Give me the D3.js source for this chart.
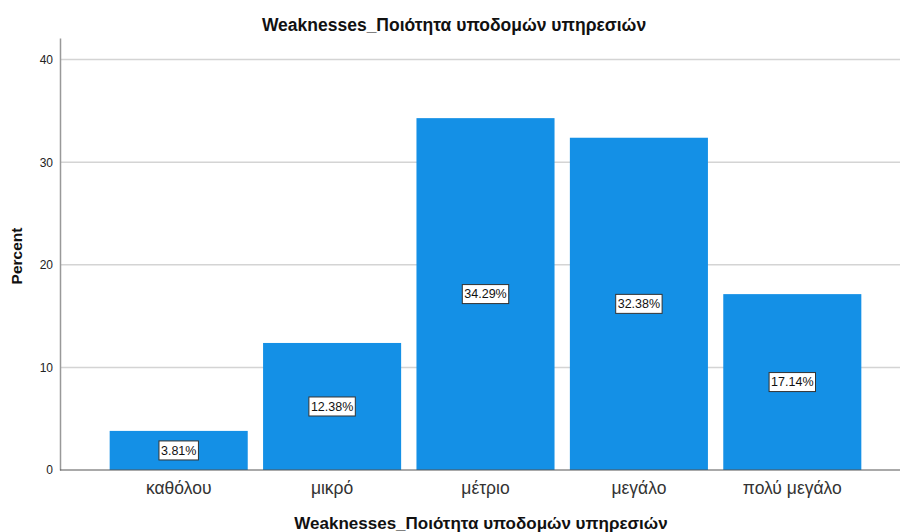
<!DOCTYPE html>
<html>
<head>
<meta charset="utf-8">
<script src="https://cdn.jsdelivr.net/npm/d3@7"></script>
<style>
  body { margin: 0; background: #fff; }
  text { font-family: Arial, "Liberation Sans", sans-serif; }
</style>
</head>
<body>
<div id="chart"></div>
<script>
// data
let categories = ['καθόλου', 'μικρό', 'μέτριο', 'μεγάλο', 'πολύ μεγάλο'];
let percents = [3.81, 12.38, 34.29, 32.38, 17.14];
let yTicks = [0, 10, 20, 30, 40];

let width = 901,
    height = 532;

let svg = d3.select('#chart').append('svg')
    .attr('width', width)
    .attr('height', height);

let x = d3.scaleBand()
    .domain(categories)
    .range([102, 869])
    .paddingInner(0.1)
    .paddingOuter(0.05);

let y = d3.scaleLinear()
    .domain([0, 42.1])
    .range([470, 38]);

// gridlines
svg.append('g')
    .selectAll('line')
    .data(yTicks.filter(function(d) { return d > 0; }))
    .enter().append('line')
    .attr('x1', 60).attr('x2', 900)
    .attr('y1', function(d) { return y(d); })
    .attr('y2', function(d) { return y(d); })
    .attr('stroke', '#d4d4d4')
    .attr('stroke-width', 1.5);

// y axis
let yAxis = svg.append('g')
    .attr('transform', 'translate(60,0)')
    .call(d3.axisLeft(y).tickValues(yTicks).tickSize(0).tickPadding(7));
yAxis.select('.domain').attr('stroke', '#999').attr('stroke-width', 1.5);
yAxis.selectAll('text').attr('font-size', 12).attr('fill', '#222');

// bars
svg.append('g')
    .selectAll('rect')
    .data(percents)
    .enter().append('rect')
    .attr('x', function(d, i) { return x(categories[i]); })
    .attr('y', function(d) { return y(d); })
    .attr('width', x.bandwidth())
    .attr('height', function(d) { return y(0) - y(d); })
    .attr('fill', '#1490e6');

// baseline
svg.append('line')
    .attr('x1', 60).attr('x2', 900)
    .attr('y1', y(0)).attr('y2', y(0))
    .attr('stroke', '#555')
    .attr('stroke-width', 1);

// x axis labels
let xAxis = svg.append('g')
    .attr('transform', 'translate(0,' + y(0) + ')')
    .call(d3.axisBottom(x).tickSize(0).tickPadding(12));
xAxis.select('.domain').remove();
xAxis.selectAll('text').attr('font-size', 17.5).attr('fill', '#333');

// value labels
let labels = svg.append('g')
    .selectAll('g')
    .data(percents)
    .enter().append('g')
    .attr('transform', function(d, i) {
        return 'translate(' + (x(categories[i]) + x.bandwidth() / 2) + ',' + y(d / 2) + ')';
    });

labels.append('text')
    .attr('text-anchor', 'middle')
    .attr('dy', '0.35em')
    .attr('font-size', 12.5)
    .attr('fill', '#111')
    .text(function(d) { return d.toFixed(2) + '%'; });

labels.insert('rect', 'text')
    .each(function() {
        let bb = this.parentNode.querySelector('text').getBBox();
        d3.select(this)
            .attr('x', bb.x - 2)
            .attr('y', -9.5)
            .attr('width', bb.width + 4)
            .attr('height', 19)
            .attr('fill', '#fff')
            .attr('stroke', '#333')
            .attr('stroke-width', 1);
    });

// titles
svg.append('text')
    .attr('x', 454).attr('y', 31)
    .attr('text-anchor', 'middle')
    .attr('font-size', 17.5)
    .attr('font-weight', 'bold')
    .attr('fill', '#111')
    .text('Weaknesses_Ποιότητα υποδομών υπηρεσιών');

svg.append('text')
    .attr('x', 481).attr('y', 529)
    .attr('text-anchor', 'middle')
    .attr('font-size', 17)
    .attr('font-weight', 'bold')
    .attr('fill', '#111')
    .text('Weaknesses_Ποιότητα υποδομών υπηρεσιών');

svg.append('text')
    .attr('transform', 'translate(22,256) rotate(-90)')
    .attr('text-anchor', 'middle')
    .attr('font-size', 15.5)
    .attr('font-weight', 'bold')
    .attr('fill', '#111')
    .text('Percent');
</script>
</body>
</html>
